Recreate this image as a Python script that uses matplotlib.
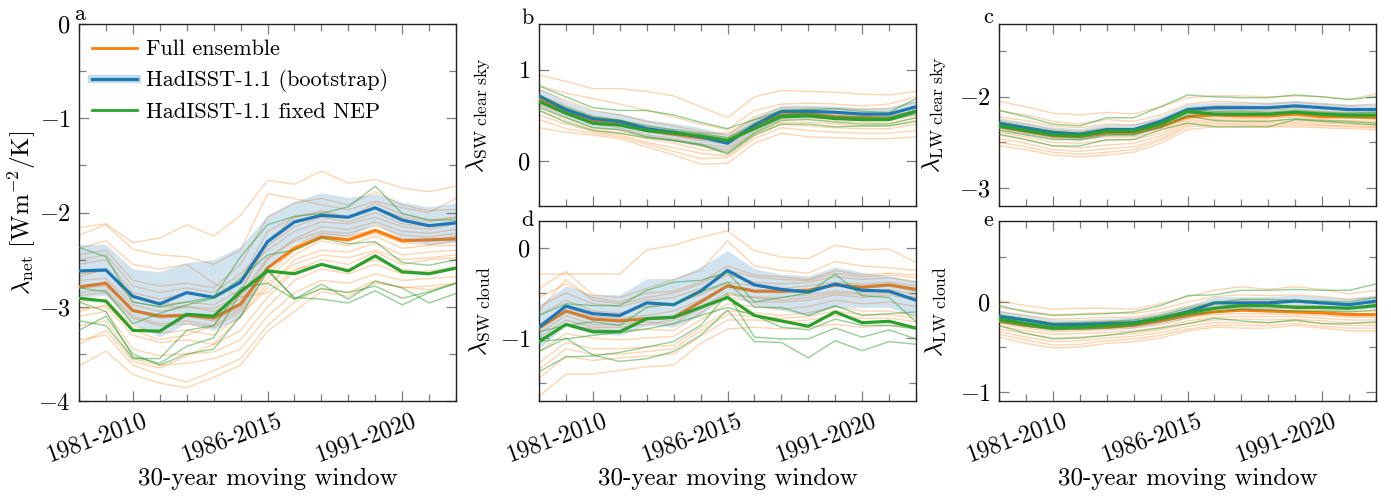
import matplotlib.pyplot as plt
import matplotlib.transforms as mtransforms
from matplotlib.lines import Line2D
from matplotlib.ticker import FixedLocator, NullFormatter

plt.rcParams['font.family'] = 'cmr10'
plt.rcParams['mathtext.fontset'] = 'cm'
plt.rcParams['axes.formatter.use_mathtext'] = True

# 30-year windows 1979-2008 ... 1993-2022
windows = ['1979-2008', '1980-2009', '1981-2010', '1982-2011', '1983-2012',
           '1984-2013', '1985-2014', '1986-2015', '1987-2016', '1988-2017',
           '1989-2018', '1990-2019', '1991-2020', '1992-2021', '1993-2022']
labelled = ['1981-2010', '1986-2015', '1991-2020']

# ---- panel a: net feedback ----
net_ens = [
    [-2.16, -2.12, -2.32, -2.27, -2.13, -2.25, -2.03, -1.66, -1.70, -1.56, -1.69, -1.65, -1.74, -1.78, -1.72],
    [-2.24, -2.13, -2.39, -2.45, -2.47, -2.55, -2.40, -1.80, -1.85, -1.92, -1.97, -1.88, -1.95, -2.00, -1.85],
    [-2.38, -2.30, -2.55, -2.60, -2.55, -2.75, -2.90, -2.85, -2.60, -2.55, -2.60, -2.50, -2.60, -2.65, -2.60],
    [-2.45, -2.40, -2.72, -2.78, -2.75, -2.80, -2.55, -2.05, -1.90, -1.85, -1.92, -1.78, -1.92, -1.98, -1.97],
    [-2.50, -2.45, -2.78, -2.85, -2.80, -2.85, -2.65, -2.40, -2.20, -2.10, -2.12, -2.05, -2.15, -2.18, -2.12],
    [-2.55, -2.50, -2.85, -2.92, -2.85, -2.90, -2.72, -2.20, -2.05, -1.98, -2.05, -1.90, -2.02, -2.08, -2.05],
    [-2.65, -2.62, -2.90, -2.98, -2.95, -2.98, -2.82, -2.35, -2.15, -2.05, -2.10, -2.00, -2.12, -2.15, -2.10],
    [-2.68, -2.60, -2.95, -3.00, -3.00, -3.02, -2.88, -2.48, -2.30, -2.20, -2.22, -2.14, -2.24, -2.26, -2.22],
    [-2.72, -2.70, -2.98, -3.05, -3.00, -3.05, -2.92, -2.50, -2.28, -2.15, -2.18, -2.10, -2.20, -2.22, -2.18],
    [-2.80, -2.78, -3.05, -3.12, -3.10, -3.15, -3.00, -2.60, -2.35, -2.22, -2.25, -2.18, -2.28, -2.30, -2.25],
    [-2.85, -2.82, -3.10, -3.18, -3.15, -3.20, -3.02, -2.65, -2.40, -2.28, -2.30, -2.22, -2.32, -2.34, -2.30],
    [-2.88, -2.85, -3.12, -3.20, -3.18, -3.22, -3.05, -2.70, -2.45, -2.30, -2.35, -2.25, -2.38, -2.35, -2.35],
    [-2.95, -2.92, -3.20, -3.28, -3.25, -3.30, -3.10, -2.80, -2.50, -2.40, -2.42, -2.32, -2.45, -2.42, -2.40],
    [-3.05, -2.98, -3.25, -3.35, -3.30, -3.20, -2.85, -2.30, -2.05, -2.00, -2.05, -1.95, -2.05, -2.10, -2.05],
    [-3.02, -3.00, -3.30, -3.38, -3.35, -3.40, -3.25, -2.90, -2.62, -2.50, -2.55, -2.42, -2.55, -2.50, -2.48],
    [-3.10, -3.05, -3.45, -3.52, -3.50, -3.48, -3.35, -3.00, -2.72, -2.60, -2.65, -2.55, -2.65, -2.62, -2.58],
    [-3.20, -3.15, -3.55, -3.62, -3.60, -3.55, -3.45, -3.10, -2.85, -2.72, -2.75, -2.65, -2.72, -2.70, -2.68],
    [-3.40, -3.25, -3.58, -3.65, -3.52, -3.40, -3.10, -2.75, -2.55, -2.45, -2.48, -2.40, -2.50, -2.48, -2.45],
    [-3.35, -3.30, -3.62, -3.72, -3.80, -3.68, -3.55, -3.20, -2.95, -2.80, -2.85, -2.72, -2.80, -2.78, -2.75],
    [-3.63, -3.47, -3.72, -3.81, -3.86, -3.75, -3.62, -3.26, -3.05, -2.84, -2.89, -2.75, -2.79, -2.82, -2.75],
]
net_ens_mean = [-2.79, -2.75, -3.04, -3.10, -3.09, -3.12, -2.97, -2.59, -2.38, -2.26, -2.29, -2.19, -2.30, -2.29, -2.28]
net_boot = [-2.62, -2.61, -2.89, -2.97, -2.85, -2.90, -2.74, -2.31, -2.10, -2.03, -2.05, -1.95, -2.08, -2.14, -2.11]
net_boot_hi = [-2.34, -2.34, -2.60, -2.63, -2.53, -2.50, -2.36, -2.03, -1.88, -1.79, -1.84, -1.80, -1.89, -1.94, -1.90]
net_boot_lo = [-2.90, -2.88, -3.18, -3.32, -3.18, -3.25, -3.12, -2.60, -2.32, -2.26, -2.26, -2.12, -2.28, -2.34, -2.32]
net_nep = [
    [-2.37, -2.47, -2.95, -3.00, -2.95, -2.90, -2.47, -2.13, -2.04, -2.01, -1.94, -1.72, -2.01, -2.08, -2.08],
    [-2.80, -2.84, -3.18, -3.07, -2.98, -2.91, -2.70, -2.45, -2.40, -2.27, -2.33, -2.31, -2.53, -2.56, -2.50],
    [-2.95, -3.05, -3.53, -3.60, -3.42, -3.33, -2.85, -2.60, -2.92, -2.76, -2.92, -2.73, -2.80, -2.96, -2.86],
    [-3.15, -3.20, -3.55, -3.55, -3.25, -3.20, -2.80, -2.75, -2.92, -2.81, -2.85, -2.78, -2.91, -2.84, -2.75],
    [-3.25, -3.10, -3.50, -3.62, -3.50, -3.45, -3.10, -2.62, -2.90, -2.92, -2.96, -2.83, -2.98, -2.85, -2.75],
]
net_nep_mean = [-2.91, -2.94, -3.25, -3.26, -3.08, -3.10, -2.84, -2.62, -2.65, -2.55, -2.62, -2.46, -2.63, -2.65, -2.59]

# ---- panel b: SW clear sky ----
swcs_ens = [
    [0.94, 0.87, 0.79, 0.79, 0.76, 0.71, 0.59, 0.47, 0.70, 0.77, 0.76, 0.75, 0.73, 0.72, 0.76],
    [0.82, 0.74, 0.68, 0.62, 0.55, 0.48, 0.40, 0.34, 0.55, 0.62, 0.63, 0.62, 0.60, 0.62, 0.70],
    [0.78, 0.66, 0.55, 0.50, 0.43, 0.38, 0.32, 0.28, 0.48, 0.58, 0.58, 0.57, 0.56, 0.57, 0.64],
    [0.72, 0.60, 0.49, 0.45, 0.38, 0.33, 0.28, 0.25, 0.42, 0.55, 0.56, 0.53, 0.52, 0.52, 0.60],
    [0.70, 0.56, 0.44, 0.41, 0.35, 0.32, 0.30, 0.30, 0.45, 0.53, 0.52, 0.50, 0.50, 0.48, 0.55],
    [0.66, 0.52, 0.42, 0.38, 0.32, 0.27, 0.22, 0.18, 0.38, 0.50, 0.50, 0.48, 0.47, 0.47, 0.52],
    [0.62, 0.50, 0.40, 0.36, 0.28, 0.24, 0.18, 0.15, 0.35, 0.47, 0.48, 0.46, 0.44, 0.44, 0.50],
    [0.60, 0.47, 0.36, 0.33, 0.26, 0.22, 0.16, 0.12, 0.32, 0.45, 0.46, 0.43, 0.42, 0.41, 0.47],
    [0.55, 0.44, 0.34, 0.30, 0.24, 0.19, 0.12, 0.10, 0.30, 0.42, 0.42, 0.40, 0.38, 0.38, 0.44],
    [0.50, 0.40, 0.32, 0.28, 0.20, 0.14, 0.08, 0.05, 0.27, 0.40, 0.38, 0.36, 0.35, 0.35, 0.40],
    [0.45, 0.35, 0.30, 0.26, 0.18, 0.10, 0.02, 0.03, 0.24, 0.36, 0.33, 0.31, 0.30, 0.30, 0.33],
    [0.36, 0.31, 0.28, 0.24, 0.15, 0.06, -0.04, -0.03, 0.19, 0.30, 0.26, 0.25, 0.24, 0.24, 0.26],
]
swcs_ens_mean = [0.67, 0.54, 0.43, 0.40, 0.33, 0.29, 0.25, 0.22, 0.37, 0.50, 0.51, 0.48, 0.47, 0.46, 0.54]
swcs_boot = [0.71, 0.56, 0.46, 0.43, 0.35, 0.31, 0.26, 0.19, 0.39, 0.54, 0.54, 0.53, 0.51, 0.51, 0.59]
swcs_boot_hi = [0.80, 0.65, 0.55, 0.52, 0.45, 0.41, 0.36, 0.29, 0.47, 0.61, 0.61, 0.60, 0.58, 0.58, 0.67]
swcs_boot_lo = [0.60, 0.47, 0.37, 0.34, 0.26, 0.21, 0.16, 0.10, 0.31, 0.46, 0.47, 0.46, 0.44, 0.44, 0.50]
swcs_nep = [
    [0.82, 0.70, 0.58, 0.55, 0.55, 0.50, 0.42, 0.35, 0.45, 0.55, 0.56, 0.57, 0.54, 0.53, 0.68],
    [0.70, 0.58, 0.48, 0.44, 0.38, 0.34, 0.30, 0.25, 0.40, 0.50, 0.52, 0.48, 0.48, 0.48, 0.55],
    [0.65, 0.52, 0.40, 0.38, 0.32, 0.30, 0.27, 0.22, 0.35, 0.50, 0.50, 0.46, 0.44, 0.44, 0.52],
    [0.58, 0.47, 0.36, 0.34, 0.26, 0.22, 0.18, 0.08, 0.30, 0.44, 0.45, 0.42, 0.40, 0.40, 0.47],
    [0.55, 0.42, 0.33, 0.30, 0.25, 0.22, 0.17, 0.07, 0.28, 0.40, 0.40, 0.37, 0.38, 0.38, 0.43],
]
swcs_nep_mean = [0.65, 0.52, 0.41, 0.39, 0.33, 0.30, 0.27, 0.22, 0.35, 0.48, 0.49, 0.46, 0.45, 0.45, 0.54]

# ---- panel c: LW clear sky ----
lwcs_ens = [
    [-2.05, -2.11, -2.18, -2.20, -2.17, -2.19, -2.11, -2.01, -1.99, -1.99, -2.00, -1.99, -2.00, -2.03, -1.97],
    [-2.15, -2.20, -2.27, -2.30, -2.25, -2.27, -2.20, -2.08, -2.05, -2.06, -2.08, -2.06, -2.08, -2.10, -2.08],
    [-2.22, -2.26, -2.32, -2.34, -2.30, -2.31, -2.25, -2.13, -2.10, -2.10, -2.12, -2.10, -2.12, -2.14, -2.13],
    [-2.26, -2.30, -2.36, -2.38, -2.34, -2.35, -2.28, -2.17, -2.14, -2.15, -2.15, -2.13, -2.16, -2.17, -2.17],
    [-2.30, -2.34, -2.40, -2.41, -2.37, -2.38, -2.30, -2.20, -2.17, -2.18, -2.19, -2.17, -2.19, -2.20, -2.20],
    [-2.33, -2.38, -2.43, -2.44, -2.40, -2.41, -2.34, -2.23, -2.20, -2.21, -2.22, -2.20, -2.22, -2.23, -2.24],
    [-2.36, -2.41, -2.46, -2.47, -2.44, -2.44, -2.37, -2.25, -2.23, -2.24, -2.24, -2.22, -2.25, -2.26, -2.27],
    [-2.39, -2.44, -2.50, -2.51, -2.48, -2.47, -2.40, -2.27, -2.25, -2.26, -2.26, -2.25, -2.27, -2.28, -2.29],
    [-2.42, -2.47, -2.54, -2.56, -2.53, -2.51, -2.43, -2.29, -2.27, -2.28, -2.28, -2.27, -2.29, -2.30, -2.31],
    [-2.46, -2.51, -2.58, -2.60, -2.57, -2.55, -2.46, -2.31, -2.29, -2.30, -2.30, -2.29, -2.31, -2.32, -2.33],
    [-2.50, -2.55, -2.61, -2.63, -2.61, -2.58, -2.48, -2.33, -2.31, -2.31, -2.32, -2.31, -2.32, -2.33, -2.34],
    [-2.54, -2.58, -2.64, -2.66, -2.64, -2.61, -2.51, -2.36, -2.33, -2.33, -2.33, -2.33, -2.34, -2.35, -2.36],
]
lwcs_ens_mean = [-2.33, -2.38, -2.43, -2.44, -2.40, -2.40, -2.33, -2.22, -2.20, -2.21, -2.21, -2.19, -2.22, -2.22, -2.23]
lwcs_boot = [-2.29, -2.34, -2.39, -2.41, -2.36, -2.36, -2.27, -2.14, -2.12, -2.12, -2.12, -2.10, -2.12, -2.14, -2.14]
lwcs_boot_hi = [-2.23, -2.28, -2.33, -2.35, -2.30, -2.30, -2.21, -2.08, -2.06, -2.06, -2.06, -2.04, -2.06, -2.08, -2.08]
lwcs_boot_lo = [-2.36, -2.41, -2.46, -2.48, -2.43, -2.43, -2.34, -2.21, -2.19, -2.19, -2.19, -2.17, -2.19, -2.21, -2.21]
lwcs_nep = [
    [-2.15, -2.22, -2.30, -2.32, -2.23, -2.23, -2.11, -1.98, -2.00, -2.01, -2.01, -1.98, -2.00, -2.03, -2.00],
    [-2.28, -2.33, -2.38, -2.40, -2.36, -2.36, -2.28, -2.14, -2.16, -2.16, -2.17, -2.15, -2.17, -2.18, -2.17],
    [-2.33, -2.37, -2.42, -2.43, -2.38, -2.38, -2.30, -2.18, -2.20, -2.20, -2.20, -2.18, -2.21, -2.22, -2.22],
    [-2.37, -2.42, -2.47, -2.47, -2.42, -2.42, -2.33, -2.21, -2.26, -2.27, -2.27, -2.24, -2.26, -2.27, -2.29],
    [-2.41, -2.47, -2.54, -2.54, -2.47, -2.47, -2.36, -2.29, -2.33, -2.33, -2.33, -2.25, -2.27, -2.29, -2.31],
]
lwcs_nep_mean = [-2.32, -2.37, -2.42, -2.43, -2.38, -2.38, -2.30, -2.16, -2.19, -2.19, -2.19, -2.17, -2.19, -2.20, -2.20]

# ---- panel d: SW cloud ----
swcl_ens = [
    [-0.29, -0.29, -0.29, -0.29, -0.02, 0.03, 0.12, 0.19, -0.03, -0.10, -0.12, 0.03, -0.02, -0.01, -0.16],
    [-0.45, -0.26, -0.52, -0.55, -0.45, -0.35, -0.25, 0.08, -0.20, -0.25, -0.28, -0.15, -0.20, -0.22, -0.25],
    [-0.55, -0.40, -0.55, -0.60, -0.50, -0.48, -0.38, -0.20, -0.30, -0.32, -0.35, -0.25, -0.30, -0.28, -0.30],
    [-0.65, -0.50, -0.62, -0.65, -0.58, -0.55, -0.45, -0.30, -0.38, -0.40, -0.38, -0.32, -0.35, -0.33, -0.38],
    [-0.70, -0.35, -0.58, -0.62, -0.55, -0.50, -0.40, -0.25, -0.32, -0.35, -0.36, -0.28, -0.32, -0.30, -0.33],
    [-0.75, -0.58, -0.70, -0.72, -0.65, -0.62, -0.52, -0.38, -0.42, -0.45, -0.42, -0.38, -0.40, -0.38, -0.42],
    [-0.85, -0.66, -0.76, -0.78, -0.75, -0.70, -0.58, -0.42, -0.48, -0.50, -0.48, -0.42, -0.45, -0.42, -0.48],
    [-0.95, -0.75, -0.85, -0.85, -0.82, -0.85, -0.65, -0.50, -0.55, -0.55, -0.52, -0.48, -0.50, -0.46, -0.52],
    [-1.00, -0.80, -0.88, -0.88, -0.85, -0.80, -0.68, -0.52, -0.55, -0.58, -0.55, -0.50, -0.52, -0.50, -0.55],
    [-1.05, -0.85, -0.90, -0.92, -0.90, -0.92, -0.72, -0.55, -0.60, -0.60, -0.58, -0.52, -0.55, -0.52, -0.58],
    [-1.15, -0.95, -1.00, -1.02, -1.00, -0.98, -0.80, -0.62, -0.65, -0.68, -0.65, -0.58, -0.62, -0.60, -0.65],
    [-1.28, -1.05, -1.12, -1.12, -1.10, -1.08, -0.88, -0.70, -0.72, -0.75, -0.72, -0.65, -0.70, -0.70, -0.75],
    [-1.35, -1.12, -1.18, -1.18, -1.15, -1.12, -0.92, -0.74, -0.76, -0.78, -0.76, -0.70, -0.74, -0.74, -0.78],
    [-1.45, -1.20, -1.25, -1.22, -1.20, -1.18, -0.98, -0.80, -0.80, -0.82, -0.80, -0.75, -0.78, -0.78, -0.82],
    [-1.65, -1.40, -1.40, -1.36, -1.32, -1.30, -1.06, -0.90, -0.88, -0.90, -0.88, -0.85, -0.88, -0.86, -0.88],
]
swcl_ens_mean = [-0.89, -0.70, -0.79, -0.81, -0.785, -0.77, -0.60, -0.42, -0.48, -0.48, -0.47, -0.41, -0.435, -0.41, -0.46]
swcl_boot = [-0.88, -0.645, -0.73, -0.75, -0.61, -0.63, -0.48, -0.25, -0.41, -0.46, -0.49, -0.40, -0.47, -0.48, -0.58]
swcl_boot_hi = [-0.64, -0.42, -0.52, -0.52, -0.34, -0.34, -0.21, -0.03, -0.23, -0.29, -0.31, -0.21, -0.27, -0.31, -0.36]
swcl_boot_lo = [-1.12, -0.86, -0.95, -0.97, -0.86, -0.88, -0.75, -0.49, -0.64, -0.69, -0.75, -0.66, -0.66, -0.66, -0.77]
swcl_nep = [
    [-0.75, -0.62, -0.64, -0.64, -0.47, -0.38, -0.36, -0.27, -0.60, -0.55, -0.50, -0.29, -0.53, -0.55, -0.82],
    [-0.93, -0.86, -0.82, -0.86, -0.66, -0.62, -0.49, -0.38, -0.66, -0.66, -0.75, -0.64, -0.75, -0.73, -0.71],
    [-1.15, -1.00, -1.19, -1.26, -1.23, -1.15, -0.97, -0.69, -1.04, -1.05, -1.22, -1.03, -1.14, -1.04, -1.07],
    [-1.375, -1.21, -1.20, -1.16, -1.10, -1.04, -0.86, -0.51, -0.99, -1.01, -1.01, -0.89, -0.99, -0.91, -1.01],
    [-1.04, -1.01, -0.97, -0.94, -0.90, -0.84, -0.75, -0.66, -0.75, -0.88, -0.91, -0.79, -0.86, -0.86, -0.90],
]
swcl_nep_mean = [-1.04, -0.85, -0.93, -0.93, -0.785, -0.77, -0.66, -0.55, -0.75, -0.81, -0.87, -0.71, -0.83, -0.815, -0.89]

# ---- panel e: LW cloud ----
lwcl_ens = [
    [0.01, -0.04, -0.08, -0.07, -0.07, -0.08, -0.02, 0.06, 0.13, 0.17, 0.14, 0.17, 0.14, 0.09, 0.13],
    [-0.06, -0.10, -0.14, -0.13, -0.12, -0.13, -0.08, 0.00, 0.06, 0.08, 0.07, 0.08, 0.06, 0.03, 0.05],
    [-0.11, -0.15, -0.19, -0.18, -0.17, -0.17, -0.12, -0.05, 0.00, 0.02, 0.01, 0.02, 0.00, -0.02, -0.01],
    [-0.15, -0.19, -0.23, -0.22, -0.21, -0.20, -0.16, -0.09, -0.05, -0.03, -0.04, -0.04, -0.05, -0.07, -0.06],
    [-0.18, -0.23, -0.26, -0.26, -0.25, -0.23, -0.19, -0.12, -0.08, -0.06, -0.07, -0.08, -0.09, -0.11, -0.10],
    [-0.21, -0.26, -0.29, -0.29, -0.28, -0.26, -0.22, -0.15, -0.11, -0.09, -0.10, -0.11, -0.12, -0.14, -0.14],
    [-0.24, -0.29, -0.33, -0.32, -0.31, -0.29, -0.25, -0.18, -0.14, -0.13, -0.13, -0.14, -0.15, -0.17, -0.17],
    [-0.27, -0.32, -0.36, -0.35, -0.34, -0.32, -0.28, -0.21, -0.17, -0.16, -0.16, -0.16, -0.18, -0.20, -0.20],
    [-0.30, -0.35, -0.40, -0.39, -0.37, -0.35, -0.31, -0.24, -0.20, -0.19, -0.20, -0.19, -0.21, -0.23, -0.23],
    [-0.33, -0.39, -0.44, -0.43, -0.40, -0.38, -0.34, -0.27, -0.23, -0.23, -0.23, -0.21, -0.24, -0.26, -0.26],
    [-0.36, -0.42, -0.48, -0.47, -0.43, -0.41, -0.37, -0.30, -0.26, -0.26, -0.26, -0.24, -0.27, -0.29, -0.29],
    [-0.39, -0.46, -0.51, -0.50, -0.46, -0.44, -0.40, -0.32, -0.28, -0.29, -0.29, -0.26, -0.29, -0.32, -0.32],
]
lwcl_ens_mean = [-0.21, -0.26, -0.29, -0.29, -0.28, -0.26, -0.21, -0.15, -0.11, -0.09, -0.10, -0.11, -0.12, -0.14, -0.14]
lwcl_boot = [-0.16, -0.20, -0.25, -0.25, -0.24, -0.23, -0.18, -0.11, -0.01, -0.01, -0.01, 0.01, -0.01, -0.03, 0.01]
lwcl_boot_hi = [-0.09, -0.14, -0.19, -0.19, -0.18, -0.17, -0.12, -0.04, 0.06, 0.06, 0.06, 0.08, 0.06, 0.04, 0.08]
lwcl_boot_lo = [-0.23, -0.27, -0.31, -0.31, -0.30, -0.29, -0.24, -0.18, -0.08, -0.08, -0.08, -0.06, -0.08, -0.10, -0.06]
lwcl_nep = [
    [-0.04, -0.11, -0.15, -0.14, -0.13, -0.11, -0.04, 0.07, 0.08, 0.13, 0.13, 0.14, 0.13, 0.13, 0.20],
    [-0.14, -0.19, -0.24, -0.23, -0.22, -0.20, -0.15, -0.07, -0.01, 0.03, 0.03, 0.02, 0.01, 0.00, 0.05],
    [-0.18, -0.23, -0.27, -0.27, -0.25, -0.23, -0.17, -0.11, -0.06, -0.03, -0.03, -0.05, -0.05, -0.06, -0.03],
    [-0.22, -0.27, -0.31, -0.30, -0.29, -0.26, -0.20, -0.14, -0.11, -0.08, -0.09, -0.10, -0.10, -0.11, -0.09],
    [-0.26, -0.35, -0.41, -0.40, -0.37, -0.33, -0.29, -0.24, -0.18, -0.21, -0.23, -0.20, -0.24, -0.24, -0.22],
]
lwcl_nep_mean = [-0.19, -0.24, -0.29, -0.28, -0.26, -0.24, -0.18, -0.12, -0.07, -0.04, -0.04, -0.06, -0.06, -0.07, -0.04]

ORANGE = '#ff7f0e'
BLUE = '#1f77b4'
GREEN = '#2ca02c'
FS_TICK = 17.5
FS_LEG = 16
FS_LAB = 18

W, H = 1391, 497
fig = plt.figure(figsize=(W / 100, H / 100), dpi=100)


def px_axes(left, top, right, bottom):
    return fig.add_axes([left / W, 1 - bottom / H, (right - left) / W, (bottom - top) / H])


def panel(ax, ens, ens_mean, boot, lo, hi, nep, nep_mean):
    x = list(range(len(windows)))
    for m in ens:
        ax.plot(x, m, color=ORANGE, lw=1.0, alpha=0.32, zorder=2)
    ax.plot(x, ens_mean, color=ORANGE, lw=2.3, zorder=3)
    ax.fill_between(x, lo, hi, color=BLUE, alpha=0.2, lw=0, zorder=4)
    ax.plot(x, boot, color=BLUE, lw=2.3, zorder=5)
    for m in nep:
        ax.plot(x, m, color=GREEN, lw=1.0, alpha=0.5, zorder=6)
    ax.plot(x, nep_mean, color=GREEN, lw=2.3, zorder=7)
    ax.set_xlim(0, len(windows) - 1)
    ax.xaxis.set_major_locator(FixedLocator([windows.index(w) for w in labelled]))
    ax.xaxis.set_minor_locator(FixedLocator(x))
    ax.tick_params(which='both', direction='in', top=True, right=True,
                   color='#7f7f7f', width=0.9, labelsize=FS_TICK)
    ax.tick_params(which='major', length=7, pad=6)
    ax.tick_params(which='minor', length=5)
    for s in ax.spines.values():
        s.set_linewidth(1.0)
        s.set_color('#222222')


def yticks(ax, lim, major, minor):
    ax.set_ylim(*lim)
    ax.yaxis.set_major_locator(FixedLocator(major))
    ax.yaxis.set_minor_locator(FixedLocator(minor))
    ax.yaxis.set_minor_formatter(NullFormatter())


def bottom_labels(ax, ylab_frac):
    ax.set_xticklabels(labelled, rotation=20, ha='right', va='top', rotation_mode='anchor')
    shift = mtransforms.ScaledTranslation(0.10, 0, fig.dpi_scale_trans)
    for lab in ax.get_xticklabels():
        lab.set_transform(lab.get_transform() + shift)
    ax.set_xlabel('30-year moving window', fontsize=FS_LAB)
    ax.xaxis.set_label_coords(0.5, ylab_frac)


ax_a = px_axes(79, 24, 456, 401)
ax_b = px_axes(539, 24, 916, 206)
ax_d = px_axes(539, 221, 916, 401)
ax_c = px_axes(999, 24, 1376, 206)
ax_e = px_axes(999, 221, 1376, 401)

panel(ax_a, net_ens, net_ens_mean, net_boot, net_boot_lo, net_boot_hi, net_nep, net_nep_mean)
panel(ax_b, swcs_ens, swcs_ens_mean, swcs_boot, swcs_boot_lo, swcs_boot_hi, swcs_nep, swcs_nep_mean)
panel(ax_c, lwcs_ens, lwcs_ens_mean, lwcs_boot, lwcs_boot_lo, lwcs_boot_hi, lwcs_nep, lwcs_nep_mean)
panel(ax_d, swcl_ens, swcl_ens_mean, swcl_boot, swcl_boot_lo, swcl_boot_hi, swcl_nep, swcl_nep_mean)
panel(ax_e, lwcl_ens, lwcl_ens_mean, lwcl_boot, lwcl_boot_lo, lwcl_boot_hi, lwcl_nep, lwcl_nep_mean)

yticks(ax_a, (-4, 0), [-4, -3, -2, -1, 0], [-3.5, -2.5, -1.5, -0.5])
yticks(ax_b, (-0.5, 1.5), [0, 1], [])
yticks(ax_c, (-3.2, -1.2), [-3, -2], [-2.5, -1.5])
yticks(ax_d, (-1.7, 0.3), [-1, 0], [-1.5, -0.5])
yticks(ax_e, (-1.1, 0.9), [-1, 0], [-0.5, 0.5])

for ax in (ax_b, ax_c):
    ax.xaxis.set_major_formatter(NullFormatter())
bottom_labels(ax_a, -0.178)
bottom_labels(ax_d, -0.372)
bottom_labels(ax_e, -0.372)

ax_a.set_ylabel(r'$\lambda_{\mathrm{net}}\ [\mathrm{Wm}^{-2}/\mathrm{K}]$', fontsize=FS_LAB)
ax_b.set_ylabel(r'$\lambda_{\mathrm{SW\ clear\ sky}}$', fontsize=FS_LAB)
ax_d.set_ylabel(r'$\lambda_{\mathrm{SW\ cloud}}$', fontsize=FS_LAB)
ax_c.set_ylabel(r'$\lambda_{\mathrm{LW\ clear\ sky}}$', fontsize=FS_LAB)
ax_e.set_ylabel(r'$\lambda_{\mathrm{LW\ cloud}}$', fontsize=FS_LAB)
ax_a.yaxis.set_label_coords(-0.11, 0.5)
for ax in (ax_b, ax_d):
    ax.yaxis.set_label_coords(-0.125, 0.5)
for ax in (ax_c, ax_e):
    ax.yaxis.set_label_coords(-0.135, 0.5)

# panel letters
for letter, xp, yp in [('a', 80, 20), ('b', 528, 24), ('c', 988, 23),
                       ('d', 528, 226), ('e', 988, 226)]:
    fig.text(xp / W, 1 - yp / H, letter, fontsize=FS_LEG, ha='center', va='baseline')

handles = [
    Line2D([], [], color=ORANGE, lw=2.0),
    (Line2D([], [], color=BLUE, lw=6, alpha=0.25), Line2D([], [], color=BLUE, lw=2.3)),
    Line2D([], [], color=GREEN, lw=2.0),
]
ax_a.legend(handles, ['Full ensemble', 'HadISST-1.1 (bootstrap)', 'HadISST-1.1 fixed NEP'],
            loc='upper left', bbox_to_anchor=(0.035, 0.958), frameon=False, fontsize=FS_LEG,
            handlelength=2.0, handletextpad=0.4, labelspacing=0.45,
            borderaxespad=0, borderpad=0)

fig.savefig('out.png', dpi=100)
